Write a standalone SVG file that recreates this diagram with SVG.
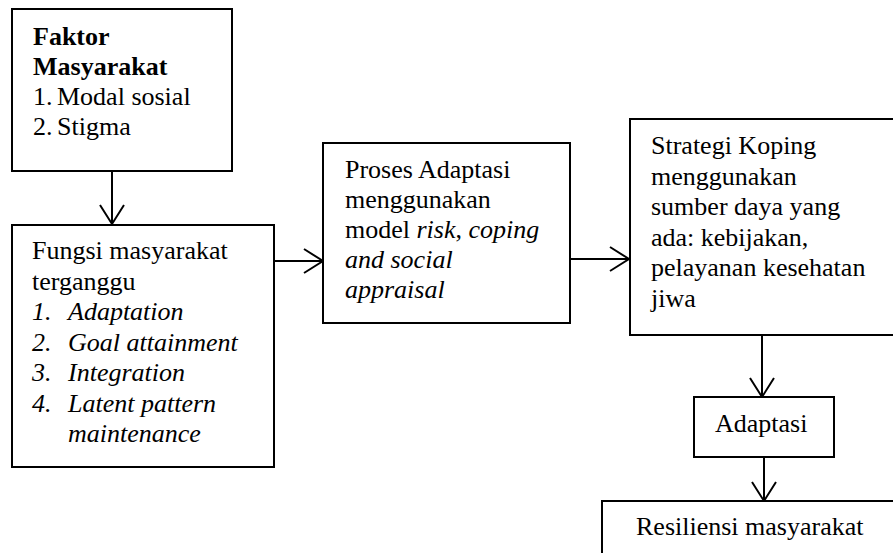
<svg xmlns="http://www.w3.org/2000/svg" width="893" height="553" viewBox="0 0 893 553">
<defs>
<marker id="arr" viewBox="0 0 22 26" markerWidth="22" markerHeight="26" refX="20" refY="13" orient="auto" markerUnits="userSpaceOnUse">
<path d="M1,1 L20,13 L1,25" fill="none" stroke="#000" stroke-width="2"/>
</marker>
</defs>
<rect width="893" height="553" fill="#fff"/>
<g id="connectors" stroke="#000" stroke-width="2" fill="none">
<line x1="112" y1="171" x2="112" y2="224" marker-end="url(#arr)"/>
<line x1="274" y1="261" x2="323" y2="261" marker-end="url(#arr)"/>
<line x1="570" y1="259" x2="629" y2="259" marker-end="url(#arr)"/>
<line x1="762" y1="335" x2="762" y2="397" marker-end="url(#arr)"/>
<line x1="764" y1="457" x2="764" y2="501" marker-end="url(#arr)"/>
</g>
<g font-family="Liberation Serif" font-size="26" fill="#000">
<g id="faktor">
<rect fill="#fff" stroke="#000" stroke-width="2" x="12" y="9" width="220" height="162"/>
<text font-weight="bold" x="33" y="45">Faktor</text>
<text font-weight="bold" x="33" y="75">Masyarakat</text>
<text x="33" y="105">1.</text><text x="57" y="105">Modal sosial</text>
<text x="33" y="135">2.</text><text x="57" y="135">Stigma</text>
</g>
<g id="fungsi">
<rect fill="#fff" stroke="#000" stroke-width="2" x="12" y="225" width="262" height="242"/>
<text x="32" y="259">Fungsi masyarakat</text>
<text x="32" y="289.5">terganggu</text>
<text font-style="italic" x="32" y="320">1.</text><text font-style="italic" x="68" y="320">Adaptation</text>
<text font-style="italic" x="32" y="350.5">2.</text><text font-style="italic" x="68" y="350.5">Goal attainment</text>
<text font-style="italic" x="32" y="381">3.</text><text font-style="italic" x="68" y="381">Integration</text>
<text font-style="italic" x="32" y="411.5">4.</text><text font-style="italic" x="68" y="411.5">Latent pattern</text>
<text font-style="italic" x="68" y="442">maintenance</text>
</g>
<g id="proses">
<rect fill="#fff" stroke="#000" stroke-width="2" x="323" y="143" width="247" height="180"/>
<text x="345" y="178">Proses Adaptasi</text>
<text x="345" y="208">menggunakan</text>
<text x="345" y="238">model <tspan font-style="italic">risk</tspan>, <tspan font-style="italic">coping</tspan></text>
<text font-style="italic" x="345" y="268">and social</text>
<text font-style="italic" x="345" y="298">appraisal</text>
</g>
<g id="strategi">
<rect fill="#fff" stroke="#000" stroke-width="2" x="630" y="119" width="280" height="216"/>
<text x="651" y="154">Strategi Koping</text>
<text x="651" y="184.5">menggunakan</text>
<text x="651" y="215">sumber daya yang</text>
<text x="651" y="245.5">ada: kebijakan,</text>
<text x="651" y="276">pelayanan kesehatan</text>
<text x="651" y="306.5">jiwa</text>
</g>
<g id="adaptasi">
<rect fill="#fff" stroke="#000" stroke-width="2" x="694" y="397" width="140" height="60"/>
<text x="715" y="432">Adaptasi</text>
</g>
<g id="resiliensi">
<rect fill="#fff" stroke="#000" stroke-width="2" x="602" y="501" width="310" height="70"/>
<text x="636" y="535">Resiliensi masyarakat</text>
</g>
</g>
</svg>
